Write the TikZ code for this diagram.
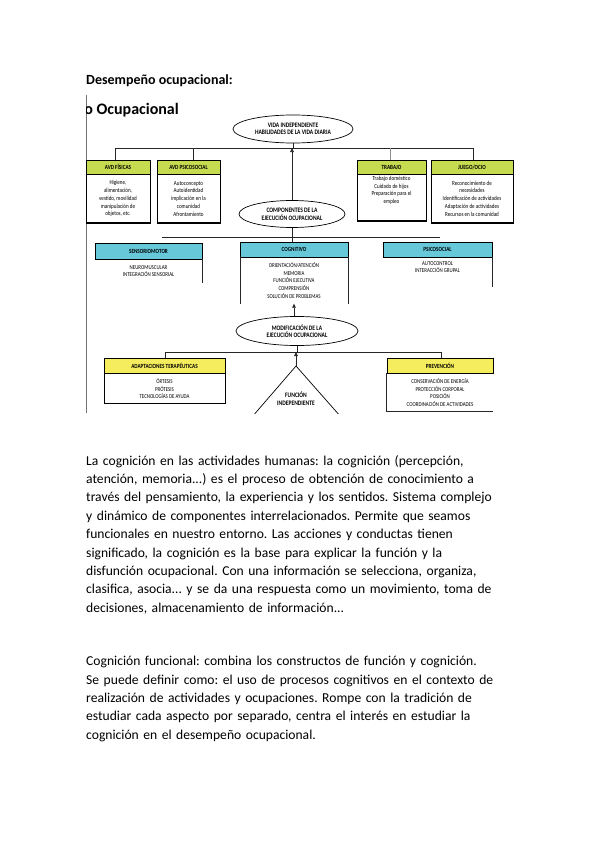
\documentclass[tikz,border=0pt]{standalone}
\usepackage{fontspec}
\setmainfont{Carlito}
\newfontfamily\diafont[FakeStretch=0.82]{Carlito}
\usetikzlibrary{shapes.geometric,arrows.meta}
\definecolor{hgreen}{RGB}{199,219,80}
\definecolor{hcyan}{RGB}{102,200,217}
\definecolor{hyellow}{RGB}{245,237,94}
\begin{document}
\frenchspacing
\begin{tikzpicture}[x=1pt,y=-1pt,
  hdr/.style={draw=black,line width=0.6pt,inner sep=0,minimum height=14,font=\diafont\bfseries\fontsize{6.3}{7}\selectfont},
  bodyt/.style={align=center,inner sep=0,font=\diafont\fontsize{6.2}{7.8}\selectfont},
  capt/.style={align=center,inner sep=0,font=\diafont\fontsize{6}{7.6}\selectfont},
  ell/.style={ellipse,draw=black,line width=0.7pt,inner sep=0,align=center,font=\diafont\bfseries\fontsize{6.8}{7.6}\selectfont},
  con/.style={draw=black!85,line width=0.6pt},
  shad/.style={draw=black,line width=1.3pt},
  arr/.style={con,-{Triangle[length=4pt,width=3.6pt]}},
  para/.style={anchor=north west,inner sep=0,text width=500,align=left,font=\fontsize{13.6}{18.4}\selectfont}
]
\fill[white] (0,0) rectangle (599,848);
\useasboundingbox (0,0) rectangle (599,848);

% heading
\node[anchor=base west,inner sep=0,font=\bfseries\fontsize{14}{16}\selectfont] (head) at (86,85) {Desempeño ocupacional:};

% left border of picture
\draw[black!55,line width=0.8pt] (86,95) -- (86,413);
\begin{scope}
\clip (86.5,90) rectangle (300,120);
\node[anchor=base east,inner sep=0,font=\bfseries\fontsize{16}{18}\selectfont] (title) at (179,114) {o Ocupacional};
\end{scope}

% level 1
\node[ell,minimum width=120,minimum height=28] (vi) at (293,129) {VIDA INDEPENDIENTE\\HABILIDADES DE LA VIDA DIARIA};

\node[hdr,fill=hgreen,minimum width=64] (hf) at (118,167) {AVD FÍSICAS};
\node[draw,line width=0.7pt,bodyt,minimum width=64,minimum height=48,anchor=north] (hfb) at (hf.south) {Higiene,\\alimentación,\\vestido, movilidad\\manipulación de\\objetos, etc.};
\node[hdr,fill=hgreen,minimum width=63] (hp) at (188.5,167) {AVD PSICOSOCIAL};
\node[draw,line width=0.7pt,bodyt,minimum width=63,minimum height=48,anchor=north] (hpb) at (hp.south) {Autoconcepto\\Autoidentidad\\implicación en la\\comunidad\\Afrontamiento};
\node[hdr,fill=hgreen,minimum width=69] (tb) at (391.5,167) {TRABAJO};
\node[draw,line width=0.7pt,bodyt,minimum width=69,minimum height=46,anchor=north] (tbb) at (tb.south) {Trabajo doméstico\\Cuidado de hijos\\Preparación para el\\empleo\\[8pt]};
\node[hdr,fill=hgreen,minimum width=82] (jo) at (472,167) {JUEGO/OCIO};
\node[draw,line width=0.7pt,bodyt,minimum width=82,minimum height=48,anchor=north] (job) at (jo.south) {Reconocimiento de\\necesidades\\Identificación de actividades\\Adaptación de actividades\\Recursos en la comunidad};
\foreach \b in {hfb,hpb,tbb,job}{\draw[shad] (\b.north east) -- (\b.south east) -- (\b.south west);}
\foreach \b in {hf,hp,tb,jo}{\draw[shad] (\b.north east) -- (\b.south east);}

\coordinate (b1) at (115,148);
\coordinate (b2) at (193,148);
\coordinate (b3) at (390,148);
\coordinate (b4) at (473,148);
\draw[con] (b1) -- (b4);
\draw[con] (b1) -- (b1 |- hf.north);
\draw[con] (b2) -- (b2 |- hp.north);
\draw[con,black!45] (b3) -- (b3 |- tb.north);
\draw[con] (b4) -- (b4 |- jo.north);
\draw[con] (vi.south) -- (vi.south |- b1);

% components
\node[ell,minimum width=106,minimum height=27] (ce) at (292,214) {COMPONENTES DE LA\\EJECUCIÓN OCUPACIONAL};
\draw[arr] (ce.north) -- (ce.north |- b1);

\coordinate (c1) at (162,237);
\coordinate (c2) at (440,237);
\draw[con] (c1) -- (c2);
\draw[con] (ce.south) -- (ce.south |- c1);

\node[hdr,fill=hcyan,minimum width=107,minimum height=16] (sm) at (148.5,251) {SENSORIOMOTOR};
\node[capt,minimum width=107,minimum height=23,anchor=north] (smb) at (sm.south) {NEUROMUSCULAR\\INTEGRACIÓN SENSORIAL};
\draw[con] (smb.north east) -- (smb.south east);

\node[hdr,fill=hcyan,minimum width=108,minimum height=15] (cg) at (294,249.5) {COGNITIVO};
\node[capt,minimum width=108,minimum height=46,anchor=north] (cgb) at (cg.south) {ORIENTACIÓN/ATENCIÓN\\MEMORIA\\FUNCIÓN EJECUTIVA\\COMPRENSIÓN\\SOLUCIÓN DE PROBLEMAS};
\draw[con] (cgb.north west) -- (cgb.south west);
\draw[con] (cgb.north east) -- (cgb.south east);
\draw[con] (ce.south |- c1) -- (ce.south |- cg.north);

\node[hdr,fill=hcyan,minimum width=109,minimum height=15] (ps) at (437.5,249.5) {PSICOSOCIAL};
\node[capt,anchor=north] (psb) at ([yshift=-4pt]ps.south) {AUTOCONTROL\\INTERACCIÓN GRUPAL};
\draw[con] (ps.south east) -- ++(0,30);

% modification
\node[ell,minimum width=122,minimum height=29] (me) at (297,331) {MODIFICACIÓN DE LA\\EJECUCIÓN OCUPACIONAL};
\draw[arr] (me.north -| cgb.south) -- (cgb.south);

\coordinate (d1) at (165,352);
\coordinate (d2) at (441,352);
\draw[con] (d1) -- (d2);
\draw[con] (me.south) -- (me.south |- d1);

\node[hdr,fill=hyellow,minimum width=121,minimum height=15] (at) at (164.5,365.5) {ADAPTACIONES TERAPÉUTICAS};
\node[draw,line width=0.7pt,capt,minimum width=121,minimum height=30,anchor=north] (atb) at (at.south) {ÓRTESIS\\PRÓTESIS\\TECNOLOGÍAS DE AYUDA};
\draw[con] (d1) -- (d1 |- at.north);

\node[hdr,fill=hyellow,minimum width=106,minimum height=15] (pv) at (440,365.5) {PREVENCIÓN};
\node[capt,minimum width=106,minimum height=38,anchor=north] (pvb) at (pv.south) {CONSERVACIÓN DE ENERGÍA\\PROTECCIÓN CORPORAL\\POSICIÓN\\COORDINACIÓN DE ACTIVIDADES};
\draw[con,line width=0.7pt] (pvb.north west) -- (pvb.south west) -- (pvb.south east);
\draw[shad] (pv.north east) -- (pv.south east);
\draw[con] (d2) -- (d2 |- pv.north);

% triangle
\coordinate (apex) at (296,366);
\begin{scope}
\clip (200,300) rectangle (400,413);
\draw[line width=0.7pt] (252,417) -- (apex) -- (341,417);
\end{scope}
\node[inner sep=0,align=center,font=\diafont\bfseries\fontsize{6.8}{8}\selectfont] (fi) at (296,399) {FUNCIÓN\\INDEPENDIENTE};
\draw[arr] (apex) -- (apex |- d1);

% paragraphs
\node[para] (p1) at (86,455) {La cognición en las actividades humanas: la cognición (percepción,\\
atención, memoria...) es el proceso de obtención de conocimiento a\\
través del pensamiento, la experiencia y los sentidos. Sistema complejo\\
y dinámico de componentes interrelacionados. Permite que seamos\\
funcionales en nuestro entorno. Las acciones y conductas tienen\\
significado, la cognición es la base para explicar la función y la\\
disfunción ocupacional. Con una información se selecciona, organiza,\\
clasifica, asocia... y se da una respuesta como un movimiento, toma de\\
decisiones, almacenamiento de información...};

\node[para] (p2) at (86,656) {Cognición funcional: combina los constructos de función y cognición.\\
Se puede definir como: el uso de procesos cognitivos en el contexto de\\
realización de actividades y ocupaciones. Rompe con la tradición de\\
estudiar cada aspecto por separado, centra el interés en estudiar la\\
cognición en el desempeño ocupacional.};
\end{tikzpicture}
\end{document}
